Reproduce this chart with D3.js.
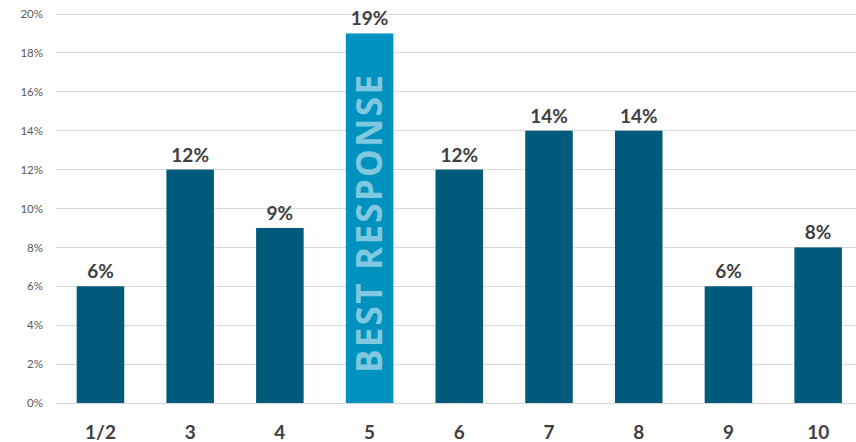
<!DOCTYPE html>
<html><head><meta charset="utf-8">
<script src="https://cdn.jsdelivr.net/npm/d3@7/dist/d3.min.js"></script>
<style>body{margin:0;background:#fff}svg{display:block}</style>
</head><body>
<svg id="c" width="856" height="442"></svg>
<script>
const categories = ["1/2","3","4","5","6","7","8","9","10"];
const values = [6,12,9,19,12,14,14,6,8];
const highlight = "5";
const highlightText = "BEST RESPONSE";
const yTicks = [0,2,4,6,8,10,12,14,16,18,20];

const svg = d3.select("#c");
const x = d3.scaleBand().domain(categories).range([55.6, 863]).paddingInner(0.47).paddingOuter(0.235);
const y = d3.scaleLinear().domain([0,20]).range([403,14]);

// grid
svg.append("g").selectAll("line").data(yTicks).join("line")
  .attr("x1",56).attr("x2",856).attr("y1",d=>y(d)).attr("y2",d=>y(d))
  .attr("stroke","#d9d9d9").attr("stroke-width",1).attr("shape-rendering","crispEdges");

const yAxis = d3.axisLeft(y).tickValues(yTicks).tickFormat(d=>d+"%").tickSize(0).tickPadding(0);
const ya = svg.append("g").attr("transform","translate(43,0)").call(yAxis);
ya.select(".domain").remove();
ya.selectAll("text").attr("font-family","Lato, 'Open Sans', sans-serif").attr("font-size",11.5).attr("fill","#595959");

// bars
svg.append("g").selectAll("rect").data(categories).join("rect")
  .attr("x",d=>x(d)).attr("width",x.bandwidth())
  .attr("y",(d,i)=>y(values[i])).attr("height",(d,i)=>y(0)-y(values[i]))
  .attr("fill",d=>d===highlight?"#0092bf":"#005a7c");

// value labels
svg.append("g").selectAll("text").data(categories).join("text")
  .attr("x",d=>x(d)+x.bandwidth()/2).attr("y",(d,i)=>y(values[i])-8)
  .attr("text-anchor","middle").attr("font-family","Lato, 'Open Sans', sans-serif")
  .attr("font-weight","bold").attr("font-size",19).attr("fill","#404040")
  .text((d,i)=>values[i]+"%");

// x axis
const xAxis = d3.axisBottom(x).tickSize(0).tickPadding(0);
const xa = svg.append("g").attr("transform","translate(0,403)").call(xAxis);
xa.select(".domain").remove();
xa.selectAll("text").attr("dy",null).attr("y",36).attr("font-family","Lato, 'Open Sans', sans-serif")
  .attr("font-weight","bold").attr("font-size",19).attr("fill","#404040");

// highlight text
const hx = x(highlight)+x.bandwidth()/2;
svg.append("text")
  .attr("transform",`translate(${hx+12.5},373) rotate(-90)`)
  .attr("font-family","'Open Sans', sans-serif").attr("font-weight","700")
  .attr("font-size",35).attr("fill","#80c8df")
  .attr("textLength",298).attr("lengthAdjust","spacing")
  .text(highlightText);
</script>
</body></html>
